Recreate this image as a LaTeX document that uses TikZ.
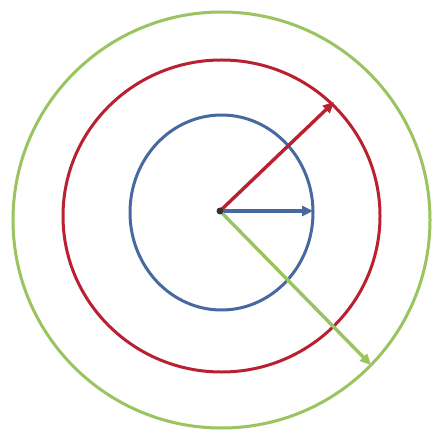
\documentclass[tikz,border=0pt]{standalone}
\usetikzlibrary{arrows.meta}
\definecolor{cblue}{RGB}{72,105,160}
\definecolor{cred}{RGB}{185,32,48}
\definecolor{cgreen}{RGB}{155,195,95}
\tikzset{
  ring/.style={line width=3pt},
  radius arrow/.style={line width=3.4pt,-{Triangle[length=11pt,width=10pt]}},
}
\begin{document}
\begin{tikzpicture}[x=1pt,y=-1pt]
\useasboundingbox (0,0) rectangle (433,435);
\fill[white] (0,0) rectangle (433,435);
\draw[ring,cgreen] (221.5,220) ellipse [x radius=208.5, y radius=208];
\draw[ring,cred] (221.5,216) ellipse [x radius=158.5, y radius=156];
\draw[ring,cblue] (221.5,212.5) ellipse [x radius=91.5, y radius=97.5];
\coordinate (o) at (220,211);
\coordinate (tr) at (334,102);
\coordinate (tb) at (313,211);
\coordinate (tg) at (371,365);
\draw[radius arrow,cred] (o) -- (tr);
\draw[radius arrow,cblue] (o) -- (tb);
\draw[radius arrow,cgreen] (o) -- (tg);
\fill[black!80] (o) circle (3.5pt);
\end{tikzpicture}
\end{document}
